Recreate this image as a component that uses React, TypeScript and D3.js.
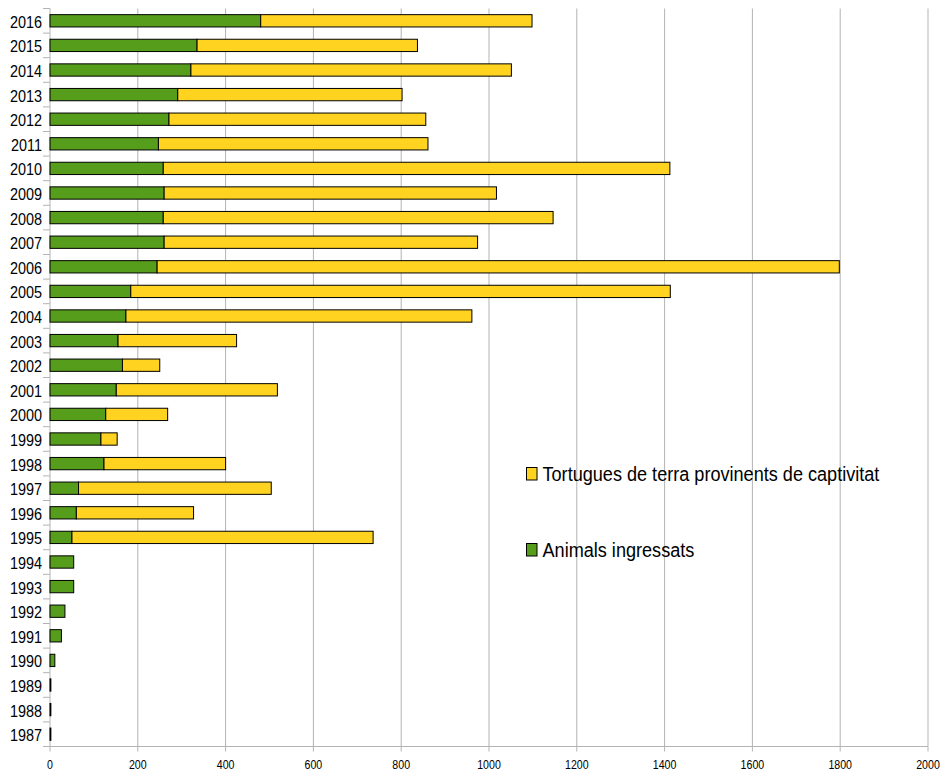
import React from "react";
import * as d3 from "d3";

const years = [
  "2016","2015","2014","2013","2012","2011","2010","2009","2008","2007",
  "2006","2005","2004","2003","2002","2001","2000","1999","1998","1997",
  "1996","1995","1994","1993","1992","1991","1990","1989","1988","1987",
];
const animals = [
  480, 335, 321, 291, 271, 247, 258, 260, 258, 260,
  244, 184, 173, 155, 165, 151, 127, 116, 123, 65,
  60, 50, 54, 54, 34, 26, 11, 2, 2, 2,
];
const totals = [
  1098, 837, 1051, 802, 856, 861, 1412, 1017, 1146, 974,
  1798, 1413, 961, 425, 250, 518, 268, 153, 400, 504,
  327, 736, 54, 54, 34, 26, 11, 2, 2, 2,
];
const tortugues = totals.map((t, i) => t - animals[i]);
const xTicks = [0, 200, 400, 600, 800, 1000, 1200, 1400, 1600, 1800, 2000];
const seriesNames = ["Tortugues de terra provinents de captivitat", "Animals ingressats"];
const seriesColors = ["#ffd320", "#579d1c"];

const W = 941;
const H = 771;
const left = 50;
const right = 928;
const top = 8.5;
const bottom = 746.5;
const FONT = "'Liberation Sans', Arial, sans-serif";
const SX = 0.885;
const SXL = 0.905;
const GRID = "#b3b3b3";

export default function App() {
  const x = d3.scaleLinear().domain([0, 2000]).range([left, right]);
  const y = d3.scaleBand<string>().domain(years).range([top, bottom]).paddingInner(0.5).paddingOuter(0.25);
  const step = y.step();
  const boundaries = d3.range(years.length + 1).map((i) => top + i * step);

  return (
    <svg width={W} height={H} style={{ position: "absolute", left: 0, top: 0, background: "#fff" }}>
      {xTicks.slice(1).map((t) => (
        <line key={"g" + t} x1={x(t)} x2={x(t)} y1={top} y2={bottom} stroke={GRID} strokeWidth={1} />
      ))}
      <line x1={left} x2={left} y1={top} y2={bottom} stroke={GRID} strokeWidth={1} />
      {boundaries.map((b, i) => (
        <line key={"yt" + i} x1={left - 7} x2={left} y1={b} y2={b} stroke={GRID} strokeWidth={1} />
      ))}
      <line x1={left} x2={right} y1={bottom} y2={bottom} stroke={GRID} strokeWidth={1} />
      {xTicks.map((t) => (
        <line key={"xt" + t} x1={x(t)} x2={x(t)} y1={bottom} y2={bottom + 5} stroke={GRID} strokeWidth={1} />
      ))}
      {years.map((yr, i) => {
        const y0 = y(yr)!;
        const h = y.bandwidth();
        return (
          <g key={yr}>
            <rect x={x(0)} y={y0} width={x(animals[i]) - x(0)} height={h}
              fill={seriesColors[1]} stroke="#000" strokeWidth={1} />
            {tortugues[i] > 0 && (
              <rect x={x(animals[i])} y={y0} width={x(totals[i]) - x(animals[i])} height={h}
                fill={seriesColors[0]} stroke="#000" strokeWidth={1} />
            )}
          </g>
        );
      })}
      {years.map((yr) => (
        <text key={"yl" + yr} transform={`translate(42,${y(yr)! + y.bandwidth() / 2 + 7}) scale(${SX},1)`}
          textAnchor="end" fontFamily={FONT} fontSize={16.3} fill="#000">{yr}</text>
      ))}
      {xTicks.map((t) => (
        <text key={"xl" + t} transform={`translate(${x(t)},769) scale(${SX},1)`}
          textAnchor="middle" fontFamily={FONT} fontSize={12} fill="#000">{t}</text>
      ))}
      {seriesNames.map((name, i) => (
        <g key={name}>
          <rect x={526.5} y={467.5 + i * 76} width={10.5} height={12.5} fill={seriesColors[i]} stroke="#000" strokeWidth={1} />
          <text transform={`translate(542.5,${481 + i * 76}) scale(${SXL},1)`} fontFamily={FONT} fontSize={20} fill="#000">{name}</text>
        </g>
      ))}
    </svg>
  );
}
